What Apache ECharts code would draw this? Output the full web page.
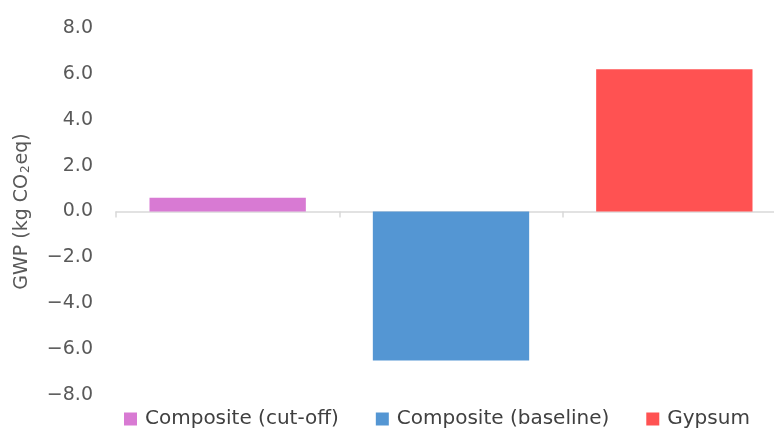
<!DOCTYPE html>
<html>
<head>
<meta charset="utf-8">
<style>
  html, body { margin: 0; padding: 0; background: #fff; overflow: hidden; }
  #chart { width: 800px; height: 428px; }
</style>
<script src="https://cdn.jsdelivr.net/npm/echarts@6/dist/echarts.min.js"></script>
</head>
<body>
<div id="chart"></div>
<script>
// Global warming potential per scenario
const categories = ['Composite (cut-off)', 'Composite (baseline)', 'Gypsum'];
const gwpValues = [0.6, -6.5, 6.2];
const barColors = ['#d87ad3', '#5496d3', '#ff5252'];
const yTicks = { min: -8, max: 8, interval: 2 };

const FONT = 'DejaVu Sans';
const chart = echarts.init(document.getElementById('chart'));

// one series per category so each gets its own legend entry; stacked so bars share a slot
const series = categories.map((name, i) => ({
  name: name,
  type: 'bar',
  stack: 'gwp',
  barWidth: '70%',
  itemStyle: { color: barColors[i] },
  data: categories.map((c, j) => (j === i ? gwpValues[i] : '-'))
}));

chart.setOption({
  animation: false,
  textStyle: { fontFamily: FONT },
  // the plot runs slightly past the right edge of the visible area
  grid: { left: 116, right: 14, top: 28, bottom: 33 },
  legend: {
    data: categories,
    left: 119,
    bottom: -6,
    icon: 'rect',
    itemWidth: 13,
    itemHeight: 13,
    itemGap: 37,
    textStyle: { fontFamily: FONT, fontSize: 20, color: '#404040', padding: [0, 0, 0, 3] }
  },
  xAxis: {
    type: 'category',
    data: categories,
    axisLine: { lineStyle: { color: '#d9d9d9', width: 1.5 } },
    axisTick: { show: true, length: 6, lineStyle: { color: '#d9d9d9', width: 1.5 } },
    axisLabel: { show: false },
    splitLine: { show: false }
  },
  yAxis: {
    type: 'value',
    min: yTicks.min,
    max: yTicks.max,
    interval: yTicks.interval,
    axisLine: { show: false },
    axisTick: { show: false },
    splitLine: { show: false },
    axisLabel: {
      margin: 23,
      fontSize: 19,
      color: '#595959',
      fontFamily: FONT,
      formatter: v => (v < 0 ? '\u2212' : '') + Math.abs(v).toFixed(1)
    },
    name: '{a|GWP (kg CO}{s|2}{a|eq)}',
    nameLocation: 'middle',
    nameRotate: 90,
    nameGap: 84,
    nameTextStyle: {
      rich: {
        a: { fontSize: 19, color: '#595959', fontFamily: FONT },
        s: { fontSize: 12, color: '#595959', fontFamily: FONT, verticalAlign: 'bottom', padding: [8, 1, 0, 1] }
      }
    }
  },
  series: series
});
</script>
</body>
</html>
